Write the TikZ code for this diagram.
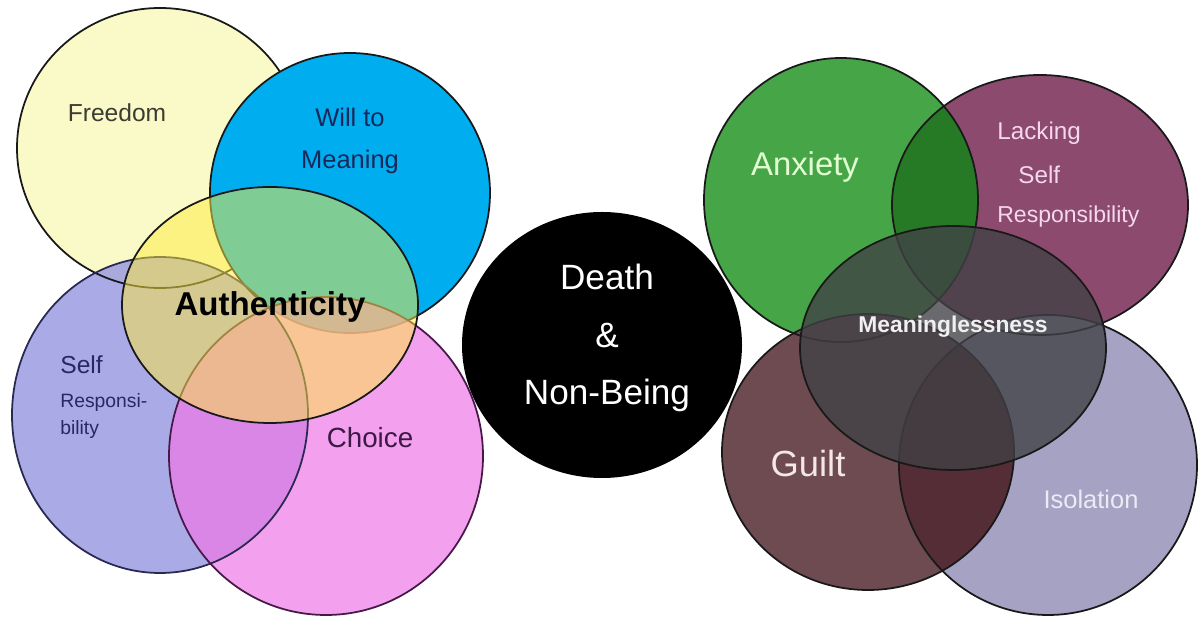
\documentclass[tikz,border=0pt]{standalone}
\usepackage{fontspec}
\setmainfont{Liberation Sans}
\usetikzlibrary{calc}

\definecolor{freedomc}{RGB}{250,250,200}
\definecolor{willc}{RGB}{0,173,239}
\definecolor{selfc}{RGB}{149,149,226}
\definecolor{choicec}{RGB}{238,120,231}
\definecolor{authc}{RGB}{255,235,60}
\definecolor{anxc}{RGB}{70,165,70}
\definecolor{lackc}{RGB}{140,75,110}
\definecolor{guiltc}{RGB}{110,75,80}
\definecolor{isoc}{RGB}{165,162,195}
\definecolor{meanc}{RGB}{65,65,70}
\definecolor{anxlackc}{RGB}{38,122,38}
\definecolor{guiltisoc}{RGB}{85,45,55}
\definecolor{selfline}{RGB}{40,40,80}
\definecolor{choiceline}{RGB}{70,25,70}
\definecolor{freedomtxt}{RGB}{60,60,50}
\definecolor{willtxt}{RGB}{25,40,90}
\definecolor{selftxt}{RGB}{40,40,100}
\definecolor{choicetxt}{RGB}{60,25,70}
\definecolor{anxtxt}{RGB}{225,255,210}
\definecolor{lacktxt}{RGB}{245,215,240}
\definecolor{guilttxt}{RGB}{245,230,232}
\definecolor{isotxt}{RGB}{235,235,245}

\begin{document}
\begin{tikzpicture}[x=0.02cm, y=-0.02cm]
        \tikzstyle{o} = [draw=black!90, line width=1pt]
        \tikzstyle{t} = [text centered, inner sep=0pt]
        \tikzstyle{tl} = [anchor=west, inner sep=0pt]

        \fill[white] (0,0) rectangle (1204,617);
        \useasboundingbox (0,0) rectangle (1204,617);

        \coordinate (freedom)   at (160,148);
        \coordinate (will)      at (350,193);
        \coordinate (self)      at (160,415);
        \coordinate (choice)    at (326,456);
        \coordinate (auth)      at (270,305);
        \coordinate (death)     at (602,345);
        \coordinate (anxiety)   at (841,200);
        \coordinate (lacking)   at (1040,205);
        \coordinate (guilt)     at (868,452);
        \coordinate (isolation) at (1048,465);
        \coordinate (meaning)   at (953,348);

        \fill[freedomc] (freedom) ellipse (143 and 140);
        \fill[selfc, fill opacity=0.8] (self) ellipse (148 and 158);
        \draw[o] (freedom) ellipse (143 and 140);
        \fill[willc] (will) ellipse (140 and 140);
        \draw[o] (will) ellipse (140 and 140);
        \fill[choicec, fill opacity=0.7] (choice) ellipse (157 and 159);
        \draw[o, draw=selfline] (self) ellipse (148 and 158);
        \draw[o, draw=choiceline] (choice) ellipse (157 and 159);
        \fill[authc, fill opacity=0.5] (auth) ellipse (148 and 118);
        \draw[o] (auth) ellipse (148 and 118);

        \fill[black] (death) ellipse (140 and 133);

        \fill[anxc] (anxiety) ellipse (137 and 142);
        \fill[lackc] (lacking) ellipse (148 and 130);
        \begin{scope}
          \clip (anxiety) ellipse (137 and 142);
          \fill[anxlackc] (lacking) ellipse (148 and 130);
        \end{scope}
        \fill[guiltc] (guilt) ellipse (146 and 138);
        \fill[isoc] (isolation) ellipse (149 and 150);
        \begin{scope}
          \clip (guilt) ellipse (146 and 138);
          \fill[guiltisoc] (isolation) ellipse (149 and 150);
        \end{scope}
        \draw[o] (anxiety) ellipse (137 and 142);
        \draw[o] (lacking) ellipse (148 and 130);
        \draw[o] (guilt) ellipse (146 and 138);
        \draw[o] (isolation) ellipse (149 and 150);
        \fill[meanc, fill opacity=0.78] (meaning) ellipse (153 and 122);
        \draw[o] (meaning) ellipse (153 and 122);

        \node(freedomlbl) [t, text=freedomtxt, font=\fontsize{14}{17}\selectfont] at (117,113) {Freedom};
        \node(willlbl)    [t, align=center, text=willtxt, font=\fontsize{14.5}{23.8}\selectfont] at (350,141) {Will to\\Meaning};
        \node(authlbl)    [t, font=\fontsize{18.8}{22}\selectfont\bfseries] at (270,307) {Authenticity};
        \node(selflbl)    [tl, text=selftxt, font=\fontsize{14}{17}\selectfont] at (60,365) {Self};
        \node(resplbl)    [tl, text=selftxt, font=\fontsize{11}{13}\selectfont] at (60,403) {Responsi-};
        \node(bilitylbl)  [tl, text=selftxt, font=\fontsize{11}{13}\selectfont] at (60,430) {bility};
        \node(choicelbl)  [t, text=choicetxt, font=\fontsize{15.8}{19}\selectfont] at (370,438) {Choice};
        \node(deathlbl)   [t, align=center, text=white, font=\fontsize{20}{32.6}\selectfont] at (607,338) {Death\\\&\\Non-Being};
        \node(anxlbl)     [t, text=anxtxt, font=\fontsize{18.7}{22}\selectfont] at (805,167) {Anxiety};
        \node(lacklbl)    [tl, text=lacktxt, font=\fontsize{13.8}{17}\selectfont] at (997,133) {Lacking};
        \node(lackselflbl)[tl, text=lacktxt, font=\fontsize{13.8}{17}\selectfont] at (1018,175) {Self};
        \node(lackresplbl)[tl, text=lacktxt, font=\fontsize{13.1}{16}\selectfont] at (997,217) {Responsibility};
        \node(meanlbl)    [t, text=white!94!black, font=\fontsize{13}{16}\selectfont\bfseries] at (953,327) {Meaninglessness};
        \node(guiltlbl)   [t, text=guilttxt, font=\fontsize{20.7}{24}\selectfont] at (808,464) {Guilt};
        \node(isolbl)     [t, text=isotxt, font=\fontsize{14.5}{17}\selectfont] at (1091,499) {Isolation};
      \end{tikzpicture}
\end{document}
